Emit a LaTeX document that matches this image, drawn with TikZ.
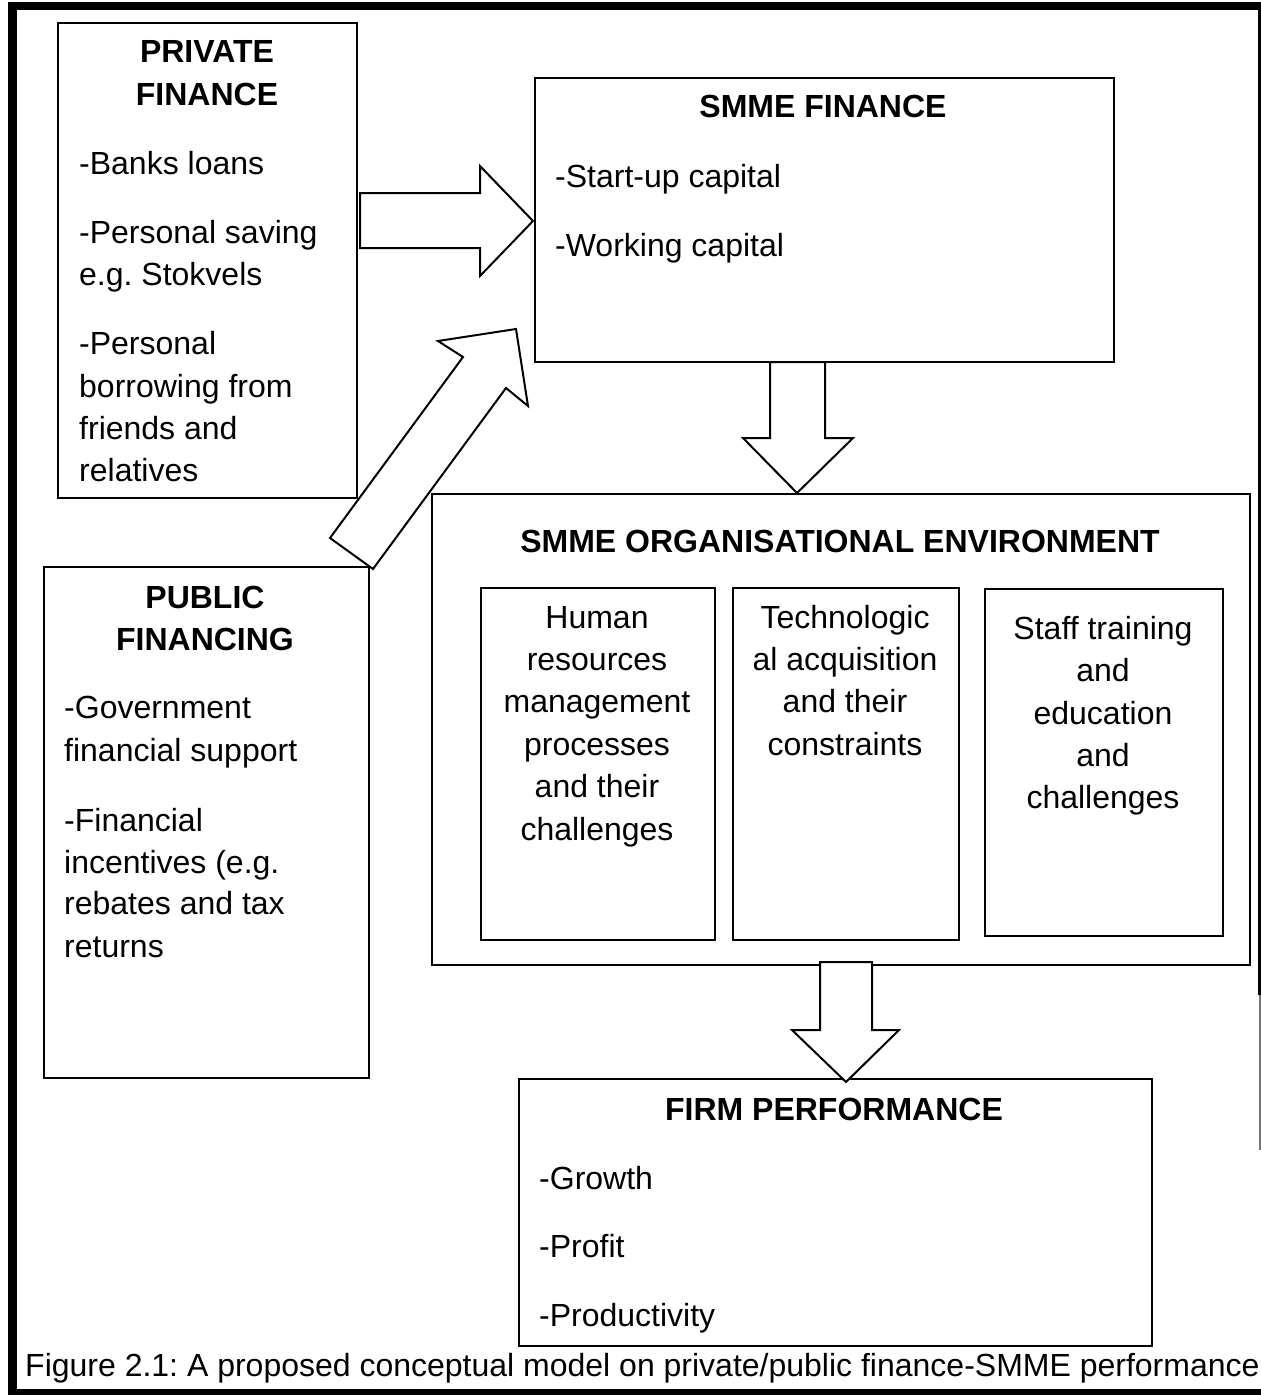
\documentclass[tikz,border=0pt]{standalone}
\usepackage{fontspec}
\setmainfont{Liberation Sans}
\frenchspacing
\begin{document}
\begin{tikzpicture}[x=1pt,y=-1pt,
  box/.style={draw=black,line width=2pt,fill=white,inner sep=0pt,anchor=north west},
  barrow/.style={draw=black,line width=2pt,fill=white,line join=miter},
  frame/.style={line width=8.5pt,draw=black},
  tl/.style={anchor=base west,inner sep=0pt},
  tc/.style={anchor=base,inner sep=0pt},
  hd/.style={anchor=base,inner sep=0pt,font=\bfseries}]
\useasboundingbox (0,0) rectangle (1261,1395);
\fontsize{32}{42}\selectfont
% outer frame
\draw[frame] (12.5,1395) -- (12.5,6) -- (1262,6) -- (1262,995);
\draw[line width=1.5pt,draw=black!55] (1260,995) -- (1260,1150);
\draw[frame] (8,1393.5) -- (1261,1393.5);
% boxes
\node[box,minimum width=299pt,minimum height=475pt] (pf) at (57,22) {};
\node[box,minimum width=579pt,minimum height=284pt] (sf) at (534,77) {};
\node[box,minimum width=325pt,minimum height=511pt] (pub) at (43,566) {};
\node[box,minimum width=818pt,minimum height=471pt] (org) at (431,493) {};
\node[box,minimum width=234pt,minimum height=352pt] (hr) at (480,587) {};
\node[box,minimum width=226pt,minimum height=352pt] (tech) at (732,587) {};
\node[box,minimum width=238pt,minimum height=347pt] (staff) at (984,588) {};
\node[box,minimum width=633pt,minimum height=267pt] (fp) at (518,1078) {};
% block arrows
\draw[barrow] (360,193) -- (480,193) -- (480,166) -- (533,221) -- (480,276) -- (480,248) -- (360,248) -- cycle;
\draw[barrow] (330,538) -- (463,357) -- (438,341) -- (516,329) -- (528,406) -- (506,388) -- (373,569) -- cycle;
\draw[barrow] (770,362) -- (825,362) -- (825,438) -- (853,438) -- (797,493) -- (743,438) -- (770,438) -- cycle;
\draw[barrow] (820,962) -- (872,962) -- (872,1030) -- (899,1030) -- (846,1082) -- (792,1030) -- (820,1030) -- cycle;
% private finance text
\node[hd] (pf1) at (207,62) {PRIVATE};
\node[hd] (pf2) at (207,105) {FINANCE};
\node[tl] (pf3) at (79,174) {-Banks loans};
\node[tl] (pf4) at (79,243) {-Personal saving};
\node[tl] (pf5) at (79,285) {e.g. Stokvels};
\node[tl] (pf6) at (79,354) {-Personal};
\node[tl] (pf7) at (79,397) {borrowing from};
\node[tl] (pf8) at (79,439) {friends and};
\node[tl] (pf9) at (79,481) {relatives};
% smme finance text
\node[hd] (sf1) at (823,117) {SMME FINANCE};
\node[tl] (sf2) at (555,187) {-Start-up capital};
\node[tl] (sf3) at (555,256) {-Working capital};
% public financing text
\node[hd] (pu1) at (205,608) {PUBLIC};
\node[hd] (pu2) at (205,650) {FINANCING};
\node[tl] (pu3) at (64,718) {-Government};
\node[tl] (pu4) at (64,761) {financial support};
\node[tl] (pu5) at (64,831) {-Financial};
\node[tl] (pu6) at (64,873) {incentives (e.g.};
\node[tl] (pu7) at (64,914) {rebates and tax};
\node[tl] (pu8) at (64,957) {returns};
% org env
\node[hd] (og1) at (840,552) {SMME ORGANISATIONAL ENVIRONMENT};
\node[tc] (hr1) at (597,628) {Human};
\node[tc] (hr2) at (597,670) {resources};
\node[tc] (hr3) at (597,712) {management};
\node[tc] (hr4) at (597,755) {processes};
\node[tc] (hr5) at (597,797) {and their};
\node[tc] (hr6) at (597,840) {challenges};
\node[tc] (te1) at (845,628) {Technologic};
\node[tc] (te2) at (845,670) {al acquisition};
\node[tc] (te3) at (845,712) {and their};
\node[tc] (te4) at (845,755) {constraints};
\node[tc] (st1) at (1103,639) {Staff training};
\node[tc] (st2) at (1103,681) {and};
\node[tc] (st3) at (1103,724) {education};
\node[tc] (st4) at (1103,766) {and};
\node[tc] (st5) at (1103,808) {challenges};
% firm performance
\node[hd] (fp1) at (834,1120) {FIRM PERFORMANCE};
\node[tl] (fp2) at (539,1189) {-Growth};
\node[tl] (fp3) at (539,1257) {-Profit};
\node[tl] (fp4) at (539,1326) {-Productivity};
% caption
\node[tl] (cap) at (25,1376) {Figure 2.1: A proposed conceptual model on private/public finance-SMME performance};
\end{tikzpicture}
\end{document}
